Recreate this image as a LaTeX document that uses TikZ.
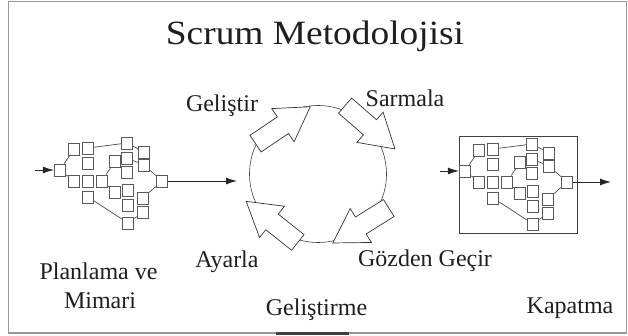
\documentclass[tikz,border=0pt]{standalone}
\usepackage{fontspec}
\setmainfont{Liberation Serif}
\usetikzlibrary{arrows.meta}
\tikzset{
 bx/.style={draw=black!65, fill=white, minimum width=11.5pt, minimum height=12pt, inner sep=0pt, line width=0.9pt},
 ln/.style={draw=black!70, line width=0.7pt},
 barrow/.style={draw=black!80, fill=white, line width=0.7pt, line join=miter},
 lbl/.style={font=\fontsize{24}{28}\selectfont, text=black!88, inner sep=0pt, anchor=base},
 flow/.style={draw=black!85, line width=0.8pt, -{Latex[length=11pt,width=7pt]}},
 cyclestyle/.style={circle, draw=black!75, line width=0.6pt, minimum size=137pt, inner sep=0pt}
}
\newcommand\scrumnet[3]{%
\begin{scope}[shift={(#2,#3)}]
 \node[bx] (#1S) at (60,170) {};
 \node[bx] (#1A1) at (74,149) {};
 \node[bx] (#1A2) at (88,148) {};
 \node[bx] (#1A3) at (88,163) {};
 \node[bx] (#1B1) at (74,181) {};
 \node[bx] (#1B2) at (88,181) {};
 \node[bx] (#1B3) at (102,181) {};
 \node[bx] (#1B4) at (88,197) {};
 \node[bx] (#1C1) at (127,143) {};
 \node[bx] (#1C3) at (115,161) {};
 \node[bx] (#1C4) at (127,158) {};
 \node[bx] (#1C5) at (127,172) {};
 \node[bx] (#1C2) at (144,152) {};
 \node[bx] (#1C6) at (144,165) {};
 \node[bx] (#1D1) at (115,192) {};
 \node[bx] (#1D2) at (128,190) {};
 \node[bx] (#1D3) at (128,205) {};
 \node[bx] (#1D4) at (143,198) {};
 \node[bx] (#1D5) at (143,212) {};
 \node[bx] (#1D6) at (128,223) {};
 \node[bx] (#1E) at (162,181) {};
 \draw[ln] (#1S) -- (#1A1);
 \draw[ln] (#1S) -- (#1B1);
 \draw[ln] (#1A2) -- (#1C1);
 \draw[ln] (#1B4) -- (#1D6);
 \draw[ln] (#1B3) -- (#1C3);
 \draw[ln] (#1B3) -- (#1D1);
 \draw[ln] (#1C1) -- (#1C2);
 \draw[ln] (#1C4) -- (#1C6);
 \draw[ln] (#1C6) -- (#1E);
 \draw[ln] (#1D4) -- (#1E);
 \draw[ln] (#1D6) -- (#1D5);
\end{scope}}
\newcommand\blockarr[3]{%
 \draw[barrow, shift={(#1,#2)}, rotate=#3] (-33,-10) -- (0,-10) -- (0,-20) -- (33,0) -- (0,20) -- (0,10) -- (-33,10) -- cycle;}
\begin{document}
\begin{tikzpicture}[x=1pt, y=-1pt]
 \useasboundingbox (0,0) rectangle (628,336);
 \fill[white] (0,0) rectangle (628,336);
 \draw[black!40, line width=1.6pt] (8.5,1.5) rectangle (626.5,333);
 \draw[black!75, line width=2.5pt] (276,333.5) -- (349,333.5);

 \node[lbl] (title) at (315,45) {\scalebox{1.1}[1]{\fontsize{34}{40}\selectfont Scrum Metodolojisi}};

 % left network
 \scrumnet{L}{0}{0}
 \coordinate (lsrc) at (35,170);
 \coordinate (lin) at (237,181);
 \draw[flow] (lsrc) -- (LS);
 \draw[flow] (LE) -- (lin);

 % cycle
 \node[cyclestyle] (cyc) at (318,174) {};
 \blockarr{282.9}{125.2}{34}
 \blockarr{370}{127.3}{-41}
 \blockarr{360.8}{225.5}{212}
 \blockarr{272}{221.9}{141.5}

 % right network
 \node[draw=black!75, line width=0.8pt, minimum width=118pt, minimum height=97pt, inner sep=0pt] (frame) at (518,184.5) {};
 \scrumnet{R}{405}{1}
 \coordinate (rsrc) at (440,171);
 \coordinate (rout) at (611,182);
 \draw[flow] (rsrc) -- (RS);
 \draw[flow] (RE) -- (rout);

 % labels
 \node[lbl] (gel) at (222,111.5) {Geliştir};
 \node[lbl] (sar) at (405,107) {Sarmala};
 \node[lbl] (aya) at (227,267) {Ayarla};
 \node[lbl] (goz) at (425,266) {Gözden Geçir};
 \node[lbl] (pla) at (98.5,279) {Planlama ve};
 \node[lbl] (mim) at (100,308) {Mimari};
 \node[lbl] (gme) at (316.5,315) {Geliştirme};
 \node[lbl] (kap) at (570,313) {Kapatma};
\end{tikzpicture}
\end{document}
